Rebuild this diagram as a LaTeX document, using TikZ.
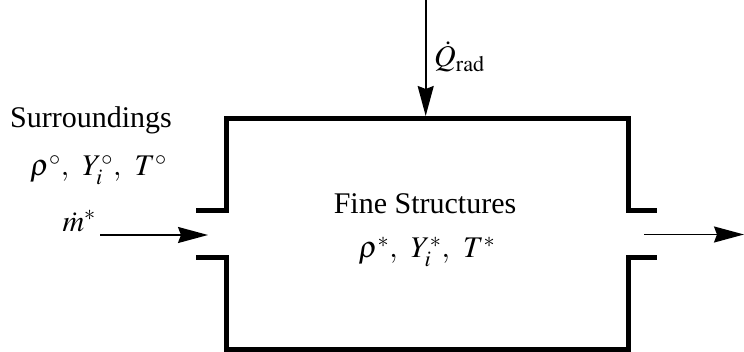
\documentclass[tikz,border=0pt]{standalone}
\usepackage{mathptmx}
\usepackage{fontspec}
\setmainfont{Liberation Serif}
\usetikzlibrary{arrows.meta}
\begin{document}
\begin{tikzpicture}[x=1pt,y=1pt,
  wall/.style={line width=5pt, line join=miter, line cap=butt},
  flow/.style={line width=1.8pt, -{Stealth[length=30pt,width=16pt,inset=3pt]}},
  lbl/.style={inner sep=0pt, font=\fontsize{30}{36}\selectfont}]
\useasboundingbox (0,0) rectangle (744,352);
% box walls
\draw[wall] (196,141) -- (226,141) -- (226,233.5) -- (628,233.5) -- (628,141) -- (657,141);
\draw[wall] (196,94) -- (226,94) -- (226,2.5) -- (628,2.5) -- (628,94) -- (657,94);
% connector endpoints
\coordinate (inS) at (100,117);
\coordinate (inE) at (208,117);
\coordinate (outS) at (644,117.5);
\coordinate (outE) at (744,117.5);
\coordinate (qS) at (425.7,352);
\coordinate (qE) at (425.7,236);
\draw[flow] (inS) -- (inE);
\draw[flow] (outS) -- (outE);
\draw[flow] (qS) -- (qE);
% labels
\node[lbl, anchor=base west] (surr) at (10,224) {Surroundings};
\node[lbl, anchor=base] (surrv) at (98.5,176) {$\rho^\circ,\;\, Y_i^\circ,\;\, T^\circ$};
\node[lbl, anchor=base east] (mdot) at (96,120.3) {$\dot m^*$};
\node[lbl, anchor=base] (fine) at (425,138) {Fine Structures};
\node[lbl, anchor=base] (finev) at (427,94) {$\rho^*,\;\, Y_i^*,\;\, T^*$};
\node[lbl, anchor=base west] (qrad) at (434,285.3) {$\dot Q_{\mathrm{rad}}$};
\end{tikzpicture}
\end{document}
